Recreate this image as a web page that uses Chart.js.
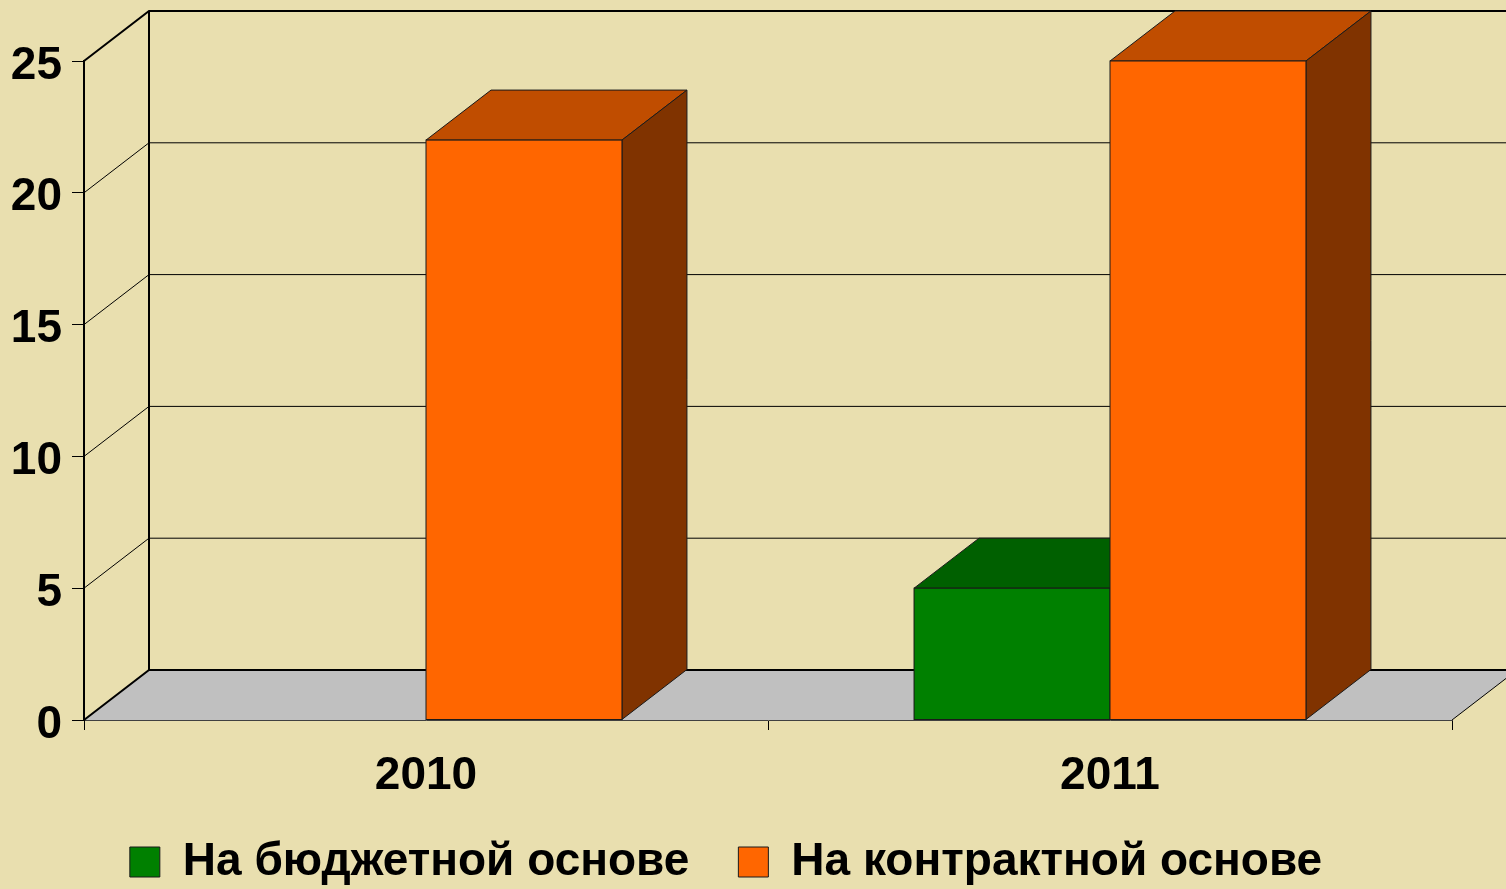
<!DOCTYPE html>
<html>
<head>
<meta charset="utf-8">
<script src="https://cdn.jsdelivr.net/npm/chart.js@4.4.1/dist/chart.umd.min.js"></script>
<style>
    html, body { margin: 0; padding: 0; background: #E9DFAF; }
    #wrap { width: 1506px; height: 889px; position: relative; }
</style>
</head>
<body>
<div id="wrap"><canvas id="chart"></canvas></div>
<script>
// data
const years = ['2010', '2011'];
const budgetValues = [0, 5];
const contractValues = [22, 25];
const seriesNames = ['На бюджетной основе', 'На контрактной основе'];
const yTicks = [0, 5, 10, 15, 20, 25];

// colours: front / top / side
const faceColors = [
    { front: '#008000', top: '#006000', side: '#004000' },
    { front: '#FF6600', top: '#C04D00', side: '#803300' }
];
const DX = 65, DY = -50; // depth of the 3d look

const font = 'Liberation Sans, Arial, sans-serif';

const fake3d = {
    id: 'fake3d',
    beforeDatasetsDraw(chart) {
        const ctx = chart.ctx;
        const area = chart.chartArea;
        const y = chart.scales.y;
        const x0 = area.left, x1 = area.right;
        const yb = y.getPixelForValue(0);
        const yt = y.getPixelForValue(yTicks[yTicks.length - 1]);
        ctx.save();
        // floor
        ctx.fillStyle = '#C0C0C0';
        ctx.beginPath();
        ctx.moveTo(x0, yb);
        ctx.lineTo(x1, yb);
        ctx.lineTo(x1 + DX, yb + DY);
        ctx.lineTo(x0 + DX, yb + DY);
        ctx.closePath();
        ctx.fill();
        ctx.strokeStyle = '#000';
        ctx.lineWidth = 1;
        ctx.beginPath();
        ctx.moveTo(x1, yb);
        ctx.lineTo(x1 + DX, yb + DY);
        ctx.stroke();
        // back wall gridlines + side wall diagonals
        yTicks.forEach(v => {
            const py = y.getPixelForValue(v);
            const thick = (v === 0 || v === yTicks[yTicks.length - 1]);
            ctx.lineWidth = thick ? 2 : 1;
            ctx.beginPath();
            ctx.moveTo(x0, py);
            ctx.lineTo(x0 + DX, py + DY);
            ctx.lineTo(chart.width + 10, py + DY);
            ctx.stroke();
        });
        ctx.lineWidth = 2;
        ctx.beginPath();
        ctx.moveTo(x0 + DX, yt + DY);
        ctx.lineTo(x0 + DX, yb + DY);
        ctx.stroke();
        ctx.restore();
    },
    afterDatasetsDraw(chart) {
        const ctx = chart.ctx;
        ctx.save();
        ctx.strokeStyle = '#1a1a1a';
        ctx.lineWidth = 1;
        for (let i = 0; i < years.length; i++) {
            chart.data.datasets.forEach((ds, d) => {
                const bar = chart.getDatasetMeta(d).data[i];
                if (!ds.data[i]) return;
                const c = faceColors[d];
                const l = bar.x - bar.width / 2, r = bar.x + bar.width / 2;
                const top = bar.y, base = bar.base;
                // top face
                ctx.fillStyle = c.top;
                ctx.beginPath();
                ctx.moveTo(l, top);
                ctx.lineTo(l + DX, top + DY);
                ctx.lineTo(r + DX, top + DY);
                ctx.lineTo(r, top);
                ctx.closePath();
                ctx.fill();
                ctx.stroke();
                // side face
                ctx.fillStyle = c.side;
                ctx.beginPath();
                ctx.moveTo(r, top);
                ctx.lineTo(r + DX, top + DY);
                ctx.lineTo(r + DX, base + DY);
                ctx.lineTo(r, base);
                ctx.closePath();
                ctx.fill();
                ctx.stroke();
                // front face
                ctx.fillStyle = c.front;
                ctx.fillRect(l, top, r - l, base - top);
                ctx.strokeRect(l, top, r - l, base - top);
            });
        }
        ctx.restore();
    }
};

new Chart(document.getElementById('chart'), {
    type: 'bar',
    data: {
        labels: years,
        datasets: [{
            label: seriesNames[0],
            data: budgetValues,
            backgroundColor: faceColors[0].front,
            borderColor: '#1a1a1a',
            borderWidth: 1,
            categoryPercentage: 0.573,
            barPercentage: 1
        }, {
            label: seriesNames[1],
            data: contractValues,
            backgroundColor: faceColors[1].front,
            borderColor: '#1a1a1a',
            borderWidth: 1,
            categoryPercentage: 0.573,
            barPercentage: 1
        }]
    },
    options: {
        responsive: true,
        maintainAspectRatio: false,
        animation: false,
        layout: { padding: { top: 61, right: 54, left: 0, bottom: 0 } },
        plugins: {
            tooltip: { enabled: false },
            legend: {
                position: 'bottom',
                maxHeight: 99,
                labels: {
                    color: '#000',
                    font: { family: font, size: 46, weight: 'bold' },
                    boxWidth: 30,
                    boxHeight: 30,
                    padding: 49
                }
            }
        },
        scales: {
            x: {
                grid: { drawOnChartArea: false, tickLength: 10, color: '#000', offset: true },
                border: { color: '#404040', width: 1 },
                ticks: { color: '#000', font: { family: font, size: 46, weight: 'bold' }, padding: 19 },
                afterFit(scale) { scale.height = 70; }
            },
            y: {
                min: 0,
                max: 25,
                grid: { drawOnChartArea: false, tickLength: 12, color: '#000' },
                border: { color: '#000', width: 2 },
                ticks: { stepSize: 5, color: '#000', font: { family: font, size: 46, weight: 'bold' }, padding: 10, labelOffset: 5 },
                afterFit(scale) { scale.width = 84; }
            }
        }
    },
    plugins: [fake3d]
});
</script>
</body>
</html>
